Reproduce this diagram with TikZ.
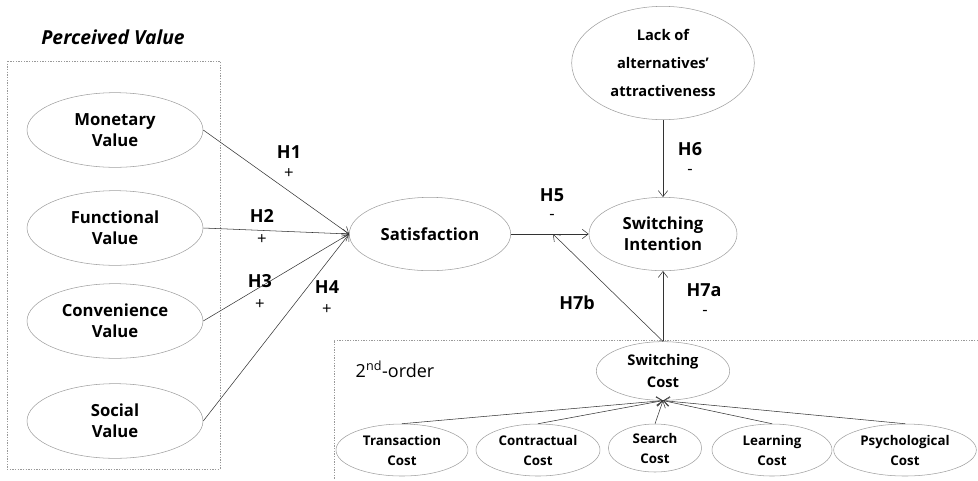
\documentclass[tikz,border=0pt]{standalone}
\usepackage{fontspec}
\setmainfont{Open Sans}
\usepackage{tikz}
\usetikzlibrary{arrows.meta,shapes.geometric,calc,positioning}
\colorlet{colorEL}{gray!75}
\colorlet{colorPATH}{black!80}
\colorlet{colorGRP}{gray!80}
\tikzset{
   every path/.style={>={Straight Barb[length=4.5pt,width=7pt]}},
   latent/.style={ellipse, draw=colorEL, inner sep=0pt, align=center, font=\bfseries\fontsize{12.5}{16}\selectfont},
   small/.style={latent, font=\bfseries\fontsize{10}{15}\selectfont},
   hyp/.style={->, draw=colorPATH, thin},
   grp/.style={draw=colorGRP, dash pattern=on 1pt off 1pt, thin},
   hlab/.style={font=\bfseries\fontsize{13.5}{15}\selectfont},
   sgn/.style={font=\fontsize{12.5}{14}\selectfont},
}
\begin{document}
\begin{tikzpicture}[x=0.75pt, y=-0.75pt]
\useasboundingbox (0,0) rectangle (978,480);

% ------------------------------------------------------------
% Perceived value block
% ------------------------------------------------------------
\node[font=\bfseries\itshape\fontsize{14.5}{16}\selectfont] (pvtitle) at (113,37) {Perceived Value};
\draw[grp] (7,61) rectangle (220,469);

\node[latent, minimum width=132pt, minimum height=56pt] (mon) at (115,130) {Monetary\\Value};
\node[latent, minimum width=132pt, minimum height=56pt] (fun) at (115,228) {Functional\\Value};
\node[latent, minimum width=132pt, minimum height=56pt] (con) at (115,321) {Convenience\\Value};
\node[latent, minimum width=132pt, minimum height=56pt] (soc) at (115,421) {Social\\Value};

% ------------------------------------------------------------
% Satisfaction and switching intention
% ------------------------------------------------------------
\node[latent, minimum width=121pt, minimum height=55pt] (sat) at (430,234) {Satisfaction};
\node[latent, minimum width=111pt, minimum height=55pt] (swi) at (663,234) {Switching\\Intention};
\node[latent, minimum width=137pt, minimum height=85pt, font=\bfseries\fontsize{11}{21}\selectfont] (alt) at (663,63) {Lack of\\alternatives'\\attractiveness};

\draw[hyp] (mon.east) to (sat.west);
\draw[hyp] (fun.east) to (sat.west);
\draw[hyp] (con.east) to (sat.west);
\draw[hyp] (soc.east) to (sat.west);
\draw[hyp] (sat.east) to (swi.west);
\draw[hyp] (alt.south) to (swi.north);

\node[hlab] (h1) at (289,152) {H1};
\node[sgn]  (s1) at (289,174) {+};
\node[hlab] (h2) at (262,216) {H2};
\node[sgn]  (s2) at (262,240) {+};
\node[hlab] (h3) at (260,281) {H3};
\node[sgn]  (s3) at (260,305) {+};
\node[hlab] (h4) at (327,287) {H4};
\node[sgn]  (s4) at (327,310) {+};
\node[hlab] (h5) at (552,195) {H5};
\node[sgn]  (s5) at (552,217) {-};
\node[hlab] (h6) at (690,149) {H6};
\node[sgn]  (s6) at (690,172) {-};
\node[hlab] (h7a) at (704,290) {H7a};
\node[sgn]  (s7a) at (705,313) {-};
\node[hlab] (h7b) at (577,303) {H7b};

% ------------------------------------------------------------
% 2nd-order switching cost
% ------------------------------------------------------------
\draw[grp] (978,340) -| (334,480);
\node[font=\fontsize{13.5}{15}\selectfont] (order) at (395,369) {2\textsuperscript{nd}-order};

\node[latent, minimum width=100pt, minimum height=44pt, font=\bfseries\fontsize{11}{16}\selectfont] (sc) at (663,371) {Switching\\Cost};
\node[small, minimum width=99pt, minimum height=39pt] (tc) at (402,450) {Transaction\\Cost};
\node[small, minimum width=93pt, minimum height=39pt] (cc) at (538,450) {Contractual\\Cost};
\node[small, minimum width=70pt, minimum height=36pt] (rc) at (655,448) {Search\\Cost};
\node[small, minimum width=90pt, minimum height=39pt] (lc) at (772,450) {Learning\\Cost};
\node[small, minimum width=107pt, minimum height=39pt] (pc) at (905,450) {Psychological\\Cost};

\coordinate (h5mid) at ($(sat.east)!0.54!(swi.west)$);
\draw[hyp] (sc.north) to (swi.south);
\draw[hyp] (sc.north) to (h5mid);

\draw[hyp] (tc.north) to (sc.south);
\draw[hyp] (cc.north) to (sc.south);
\draw[hyp] (rc.north) to (sc.south);
\draw[hyp] (lc.north) to (sc.south);
\draw[hyp] (pc.north) to (sc.south);
\end{tikzpicture}
\end{document}
